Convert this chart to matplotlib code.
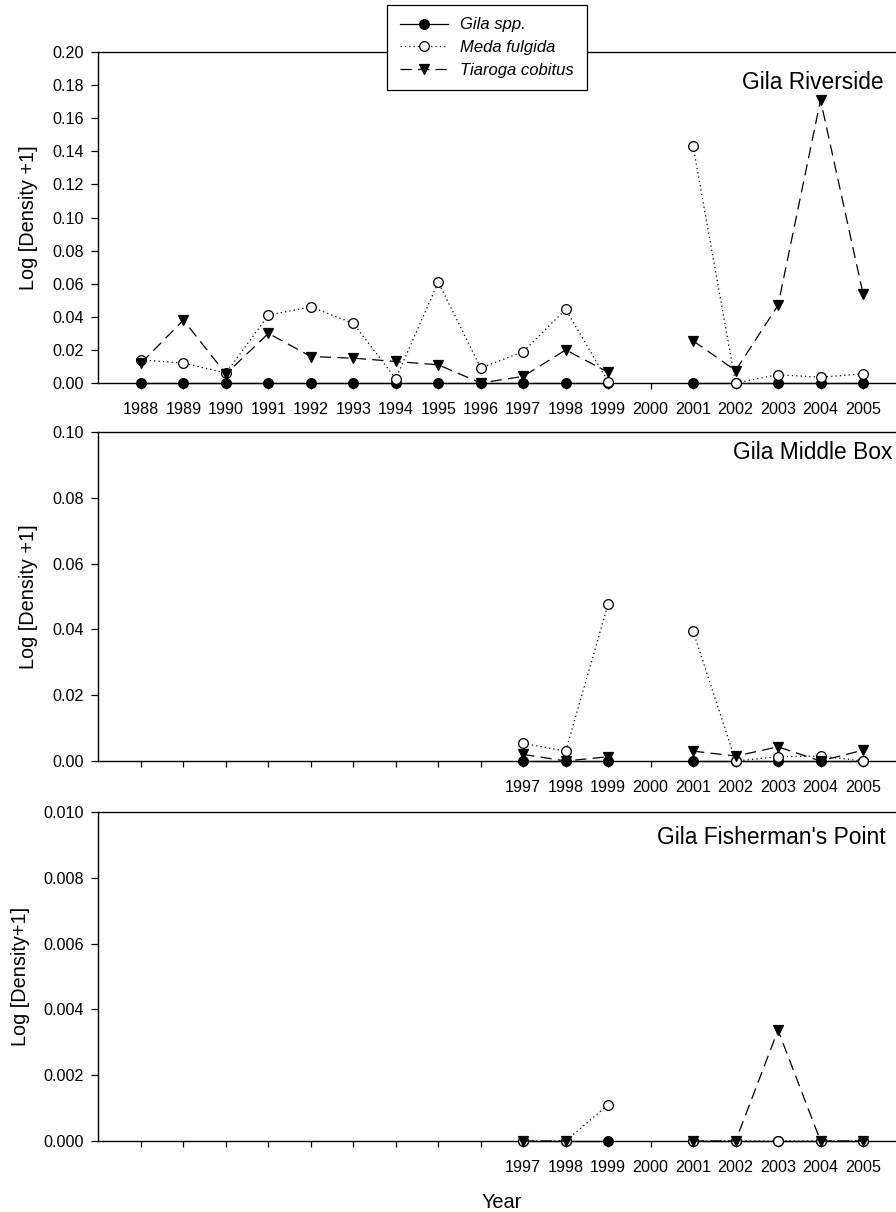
import numpy as np
import matplotlib
matplotlib.use("Agg")
import matplotlib.pyplot as plt

plt.rcParams['font.family'] = ['Liberation Sans', 'DejaVu Sans']

nan = np.nan

# Gila Riverside (1988-2005, no sampling in 2000)
years_riv = [1988, 1989, 1990, 1991, 1992, 1993, 1994, 1995, 1996,
             1997, 1998, 1999, 2000, 2001, 2002, 2003, 2004, 2005]
gila_riv = [0, 0, 0, 0, 0, 0, 0, 0, 0, 0, 0, 0, nan, 0, 0, 0, 0, 0]
meda_riv = [0.014, 0.012, 0.006, 0.041, 0.046, 0.036, 0.0025, 0.061, 0.009,
            0.019, 0.0445, 0.0008, nan, 0.143, 0.0, 0.005, 0.0035, 0.0055]
tiar_riv = [0.012, 0.038, 0.0055, 0.030, 0.016, 0.015, 0.013, 0.011, 0.0,
            0.004, 0.020, 0.0065, nan, 0.0255, 0.0075, 0.047, 0.171, 0.054]

# Gila Middle Box (1997-2005)
years_short = [1997, 1998, 1999, 2000, 2001, 2002, 2003, 2004, 2005]
gila_mb = [0, 0, 0, nan, 0, 0, 0, 0, 0]
meda_mb = [0.0054, 0.003, 0.0478, nan, 0.0395, 0.0, 0.0013, 0.0015, 0.0]
tiar_mb = [0.002, 0.0, 0.0013, nan, 0.003, 0.0015, 0.0043, 0.0, 0.0033]

# Gila Fisherman's Point (1997-2005)
gila_fp = [0, 0, 0, nan, 0, 0, 0, 0, 0]
meda_fp = [0, 0, 0.0011, nan, 0, 0, 0, 0, 0]
tiar_fp = [0, 0, nan, nan, 0, 0, 0.00337, 0, 0]

all_ticks = list(range(1988, 2006))

panels = [
    dict(x=years_riv, series=(gila_riv, meda_riv, tiar_riv), ymax=0.20, step=0.02,
         fmt='%.2f', title='Gila Riverside', ylabel='Log [Density +1]',
         labelled=all_ticks, rect=(98, 52, 383), tpos=(0.985, 0.909), ylx=-0.0865),
    dict(x=years_short, series=(gila_mb, meda_mb, tiar_mb), ymax=0.10, step=0.02,
         fmt='%.2f', title='Gila Middle Box', ylabel='Log [Density +1]',
         labelled=years_short, rect=(98, 432, 761), tpos=(0.996, 0.939), ylx=-0.0865),
    dict(x=years_short, series=(gila_fp, meda_fp, tiar_fp), ymax=0.010, step=0.002,
         fmt='%.3f', title="Gila Fisherman's Point", ylabel='Log [Density+1]',
         labelled=years_short, rect=(98, 812, 1141), tpos=(0.987, 0.924), ylx=-0.0977),
]

W, H = 896, 1212
fig = plt.figure(figsize=(W / 100, H / 100), dpi=100)

styles = [
    dict(marker='o', mfc='black', mec='black', ls='-', label='Gila spp.', zorder=3),
    dict(marker='o', mfc='white', mec='black', ls=(0, (1, 2.5)), label='Meda fulgida', zorder=4),
    dict(marker='v', mfc='black', mec='black', ls=(0, (9, 5)), label='Tiaroga cobitus', zorder=5),
]

px_per_year = (863 - 141) / 17.0
handles = None
for p in panels:
    left, top, bottom = p['rect']
    ax = fig.add_axes([left / W, 1 - bottom / H, (W - left) / W, (bottom - top) / H])
    lines = []
    for vals, st in zip(p['series'], styles):
        ms = 7.8 if st['marker'] == 'v' else 7.0
        ln, = ax.plot(p['x'], vals, color='black', lw=0.9, ms=ms, mew=0.9,
                      clip_on=False, **st)
        lines.append(ln)
    if handles is None:
        handles = lines

    x0 = 1988 - (141 - left) / px_per_year
    ax.set_xlim(x0, x0 + (W - left) / px_per_year)
    ax.set_ylim(0, p['ymax'])
    ax.set_yticks(np.arange(0, p['ymax'] + p['step'] / 2, p['step']))
    ax.yaxis.set_major_formatter(matplotlib.ticker.FormatStrFormatter(p['fmt']))
    ax.set_xticks(all_ticks)
    ax.set_xticklabels([str(y) if y in p['labelled'] else '' for y in all_ticks])

    ax.spines['right'].set_visible(False)
    for s in ('left', 'top', 'bottom'):
        ax.spines[s].set_linewidth(1.0)
    ax.tick_params(axis='x', direction='out', length=4.5, width=0.9, pad=9, labelsize=11.6)
    ax.tick_params(axis='y', direction='out', length=5, width=0.9, pad=5, labelsize=11.6)

    ax.text(p['tpos'][0], p['tpos'][1], p['title'], transform=ax.transAxes,
            ha='right', va='center', fontsize=16.4)
    ax.text(p['ylx'], 0.5, p['ylabel'], transform=ax.transAxes, rotation=90,
            ha='center', va='center', fontsize=14.3)

fig.text(502 / W, 1 - 1203 / H, 'Year', ha='center', va='center', fontsize=14.3)

leg = fig.legend(handles=handles, loc='upper left', bbox_to_anchor=(387 / W, 1 - 5 / H),
                 bbox_transform=fig.transFigure, handlelength=2.9,
                 handletextpad=0.75, labelspacing=0.45, borderpad=0.75, borderaxespad=0,
                 fancybox=False, framealpha=1, edgecolor='black',
                 prop=dict(style='italic', size=12))
leg.get_frame().set_linewidth(0.9)

fig.savefig('out.png', dpi=100)
